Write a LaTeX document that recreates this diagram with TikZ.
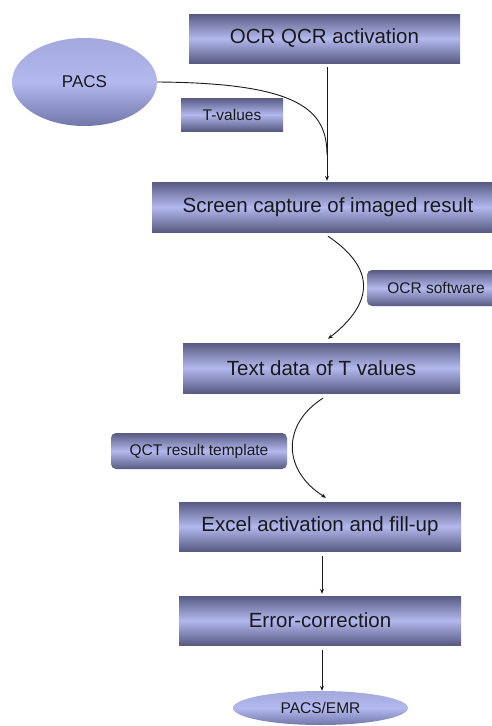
\documentclass[tikz,border=0pt]{standalone}
\usepackage{fontspec}
\setmainfont{Liberation Sans}
\usetikzlibrary{shapes.geometric,arrows.meta}
\definecolor{bdark}{HTML}{575B82}
\definecolor{blight}{HTML}{B3B8EE}
\definecolor{edark}{HTML}{7277AA}
\definecolor{etop}{HTML}{A3A9DC}
\definecolor{txt}{HTML}{1A1A1A}
\begin{document}
\begin{tikzpicture}[x=1pt,y=-1pt,
  flowbox/.style={rectangle, inner sep=0pt, top color=bdark, bottom color=bdark, middle color=blight,
    font=\fontsize{20.5}{24}\selectfont, text=txt},
  tagbox/.style={rectangle, inner sep=0pt, top color=bdark, bottom color=bdark, middle color=blight,
    font=\fontsize{15.5}{18}\selectfont, text=txt},
  roundtag/.style={tagbox, rounded corners=5pt},
  oval/.style={ellipse, inner sep=0pt, top color=etop, bottom color=edark, middle color=blight, text=txt},
  conn/.style={line width=0.9pt, draw=txt},
  arr/.style={conn, -{Stealth[length=5pt,width=4pt]}}]
\clip (0,0) rectangle (492,726);
\fill[white] (0,0) rectangle (492,726);

\node[flowbox, minimum width=271pt, minimum height=49pt] (act) at (324.5,38.5) {OCR QCR activation};
\node[oval, minimum width=145pt, minimum height=88pt, font=\fontsize{17}{20}\selectfont] (pacs) at (84.5,82) {PACS};
\node[tagbox, minimum width=102pt, minimum height=33pt] (tval) at (232,114.5) {T-values};
\node[flowbox, minimum width=352pt, minimum height=50pt] (screen) at (328,207) {Screen capture of imaged result};
\node[roundtag, minimum width=138pt, minimum height=36pt] (ocrsw) at (436,288) {OCR software};
\node[flowbox, minimum width=277pt, minimum height=50pt] (tdata) at (321.5,368) {Text data of T values};
\node[roundtag, minimum width=176pt, minimum height=36pt] (qct) at (199,451) {QCT result template};
\node[flowbox, minimum width=282pt, minimum height=49pt] (excel) at (320,526.5) {Excel activation and fill-up};
\node[flowbox, minimum width=282pt, minimum height=49pt] (err) at (320,620.5) {Error-correction};
\node[oval, minimum width=175pt, minimum height=34pt, font=\fontsize{15.5}{18}\selectfont] (emr) at (320.5,708) {PACS/EMR};

\coordinate (join) at (327,155);
\draw[arr] ([xshift=2.5pt,yshift=-4pt]act.south) -- ([xshift=-1pt,yshift=1pt]screen.north);
\draw[conn] (pacs.east) .. controls (300,83) and (327,110) .. (join);

\draw[arr] ([yshift=-4pt]screen.south) .. controls (375,268) and (375,302) .. ([xshift=6.5pt,yshift=4pt]tdata.north);

\draw[arr] ([xshift=1.5pt,yshift=-5pt]tdata.south) .. controls (282,424) and (282,470) .. ([xshift=6pt,yshift=4pt]excel.north);

\draw[arr] ([xshift=2pt,yshift=-5pt]excel.south) -- ([xshift=2pt,yshift=2pt]err.north);

\draw[arr] ([xshift=2pt,yshift=-5pt]err.south) -- ([xshift=1.5pt,yshift=0pt]emr.north);
\end{tikzpicture}
\end{document}
